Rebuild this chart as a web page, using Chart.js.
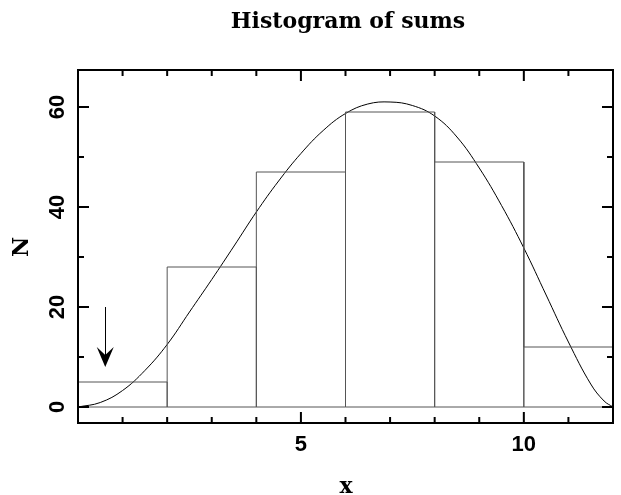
<!DOCTYPE html>
<html>
<head>
<meta charset="utf-8">
<script src="https://cdn.jsdelivr.net/npm/chart.js@4/dist/chart.umd.min.js"></script>
<style>
  body { margin: 0; background: #fff; }
  canvas { display: block; }
</style>
</head>
<body>
<canvas id="hist" width="621" height="495"></canvas>
<script>
// histogram bins (edges) and counts
const binEdges = [0, 2, 4, 6, 8, 10, 12];
const binCounts = [5, 28, 47, 59, 49, 12];

// smooth model curve
const curveX = [0, 0.5, 1, 1.5, 2, 2.5, 3, 3.5, 4, 4.5, 5, 5.5, 6, 6.5, 7, 7.5, 8, 8.5, 9, 9.5, 10, 10.5, 11, 11.5, 11.8, 12];
const curveY = [0, 0.9, 3.3, 7.3, 12.5, 19, 25.5, 32.2, 39, 45.2, 50.7, 55.3, 58.7, 60.6, 61, 60.3, 58.2, 54, 47.8, 40.3, 31.8, 22.4, 13, 4.6, 1.2, 0];

// arrow marker (x, from y, to y)
const arrowX = 0.6;
const arrowFromY = 20;
const arrowToY = 8;

// axis ticks
const xTickLabels = [5, 10];
const yTickLabels = [0, 20, 40, 60];

const title = 'Histogram of sums';
const xTitle = 'x';
const yTitle = 'N';

// build rectangle outline of every bin, then close along the baseline
let outline = [];
for (let i = 0; i < binCounts.length; i++) {
  outline.push({x: binEdges[i], y: 0});
  outline.push({x: binEdges[i], y: binCounts[i]});
  outline.push({x: binEdges[i + 1], y: binCounts[i]});
  outline.push({x: binEdges[i + 1], y: 0});
}
outline.push({x: binEdges[0], y: 0});

const curve = curveX.map((x, i) => ({x: x, y: curveY[i]}));

const framePlugin = {
  id: 'frame',
  afterDraw(chart) {
    const ctx = chart.ctx;
    const a = chart.chartArea;
    const xs = chart.scales.x;
    const ys = chart.scales.y;
    ctx.save();

    // arrow
    const ax = xs.getPixelForValue(arrowX);
    const ay0 = ys.getPixelForValue(arrowFromY);
    const ay1 = ys.getPixelForValue(arrowToY);
    ctx.strokeStyle = '#000';
    ctx.lineWidth = 1;
    ctx.beginPath();
    ctx.moveTo(Math.round(ax) + 0.5, ay0);
    ctx.lineTo(Math.round(ax) + 0.5, ay1 - 6);
    ctx.stroke();
    ctx.fillStyle = '#000';
    ctx.beginPath();
    ctx.moveTo(ax + 0.5, ay1);
    ctx.lineTo(ax - 8, ay1 - 20);
    ctx.lineTo(ax + 0.5, ay1 - 12);
    ctx.lineTo(ax + 9, ay1 - 20);
    ctx.closePath();
    ctx.fill();

    // frame
    ctx.lineWidth = 2;
    ctx.strokeRect(a.left, a.top, a.right - a.left, a.bottom - a.top);

    // ticks
    ctx.beginPath();
    for (let v = 0; v <= 12; v++) {
      const px = xs.getPixelForValue(v);
      const len = (v % 5 === 0) ? 11 : 6;
      ctx.moveTo(px, a.bottom); ctx.lineTo(px, a.bottom - len);
      ctx.moveTo(px, a.top); ctx.lineTo(px, a.top + len);
    }
    for (let v = 0; v <= 60; v += 10) {
      const py = ys.getPixelForValue(v);
      const len = (v % 20 === 0) ? 11 : 6;
      ctx.moveTo(a.left, py); ctx.lineTo(a.left + len, py);
      ctx.moveTo(a.right, py); ctx.lineTo(a.right - len, py);
    }
    ctx.stroke();

    // tick labels
    ctx.fillStyle = '#000';
    ctx.font = 'bold 22px "Liberation Sans", Arial, sans-serif';
    ctx.textAlign = 'center';
    ctx.textBaseline = 'middle';
    xTickLabels.forEach(v => {
      ctx.fillText(String(v), xs.getPixelForValue(v), a.bottom + 22);
    });
    yTickLabels.forEach(v => {
      ctx.save();
      ctx.translate(a.left - 20, ys.getPixelForValue(v));
      ctx.rotate(-Math.PI / 2);
      ctx.fillText(String(v), 0, 0);
      ctx.restore();
    });

    // titles
    ctx.font = 'bold 22px "DejaVu Serif", serif';
    ctx.fillText(title, 348, 22);
    ctx.fillText(xTitle, 346, 487);
    ctx.save();
    ctx.translate(22, 247);
    ctx.rotate(-Math.PI / 2);
    ctx.fillText(yTitle, 0, 0);
    ctx.restore();

    ctx.restore();
  }
};

const ctx = document.getElementById('hist').getContext('2d');
const histChart = new Chart(ctx, {
  type: 'line',
  data: {
    datasets: [
      {
        label: 'counts',
        data: outline,
        borderColor: '#555',
        borderWidth: 1,
        pointRadius: 0,
        tension: 0,
        fill: false
      },
      {
        label: 'model',
        data: curve,
        borderColor: '#000',
        borderWidth: 1,
        pointRadius: 0,
        tension: 0.4,
        fill: false
      }
    ]
  },
  options: {
    responsive: false,
    animation: false,
    devicePixelRatio: 1,
    layout: {
      padding: {left: 78, top: 70, right: 8, bottom: 72}
    },
    plugins: {
      legend: {display: false},
      tooltip: {enabled: false},
      title: {display: false}
    },
    scales: {
      x: {type: 'linear', min: 0, max: 12, display: false},
      y: {type: 'linear', min: -3.2, max: 67.4, display: false}
    }
  },
  plugins: [framePlugin]
});
</script>
</body>
</html>
